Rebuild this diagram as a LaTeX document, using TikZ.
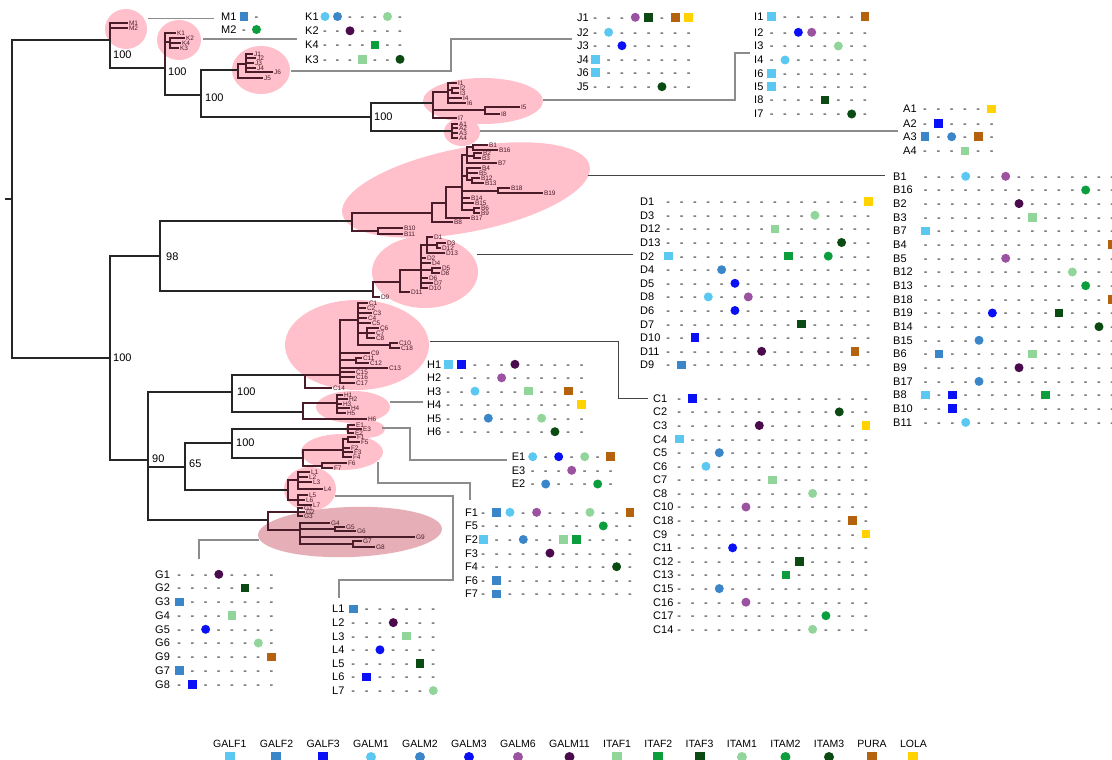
\documentclass[tikz,border=0pt]{standalone}
\usepackage{fontspec}
\setmainfont{Liberation Sans}
\usetikzlibrary{shapes.geometric}
\definecolor{cA}{HTML}{5BC8F2}
\definecolor{cB}{HTML}{3B86C8}
\definecolor{cC}{HTML}{0A10F5}
\definecolor{cG}{HTML}{9B52A0}
\definecolor{cH}{HTML}{4A0B4D}
\definecolor{cI}{HTML}{92D59A}
\definecolor{cJ}{HTML}{0C9E3C}
\definecolor{cK}{HTML}{0B4A12}
\definecolor{cO}{HTML}{B5620E}
\definecolor{cP}{HTML}{FFD200}
\definecolor{pinkc}{HTML}{FFC0CB}
\definecolor{gpink}{HTML}{E6AFB7}
\definecolor{subc}{HTML}{4A1C2A}
\definecolor{connc}{HTML}{8C8C8C}
\definecolor{connd}{HTML}{454545}
\newcommand\tabfont{\fontsize{11}{11}\selectfont}
\newcommand\legfont{\fontsize{10.5}{10.5}\selectfont}
\newcommand\bsfont{\fontsize{11}{11}\selectfont}
\newcommand\lffont{\fontsize{6.5}{6.5}\selectfont}
\tikzset{
 tree/.style={draw=black!85, line width=1.3pt},
 sub/.style={draw=subc, line width=1.1pt},
 conn/.style={draw=connc, line width=1.1pt},
 connk/.style={draw=connd, line width=1pt},
 clade/.style={ellipse, fill=pinkc, inner sep=0pt},
 boot/.style={anchor=west, inner sep=0pt, font=\bsfont},
 leaflbl/.style={anchor=west, inner sep=0.8pt, font=\lffont, text=subc},
 rowlbl/.style={anchor=base west, yshift=-3.9pt, inner sep=0pt, font=\tabfont},
 cellx/.style={anchor=base, yshift=-3.9pt, inner sep=0pt, font=\tabfont},
 sq/.style={rectangle, minimum size=8.5pt, inner sep=0pt, fill=#1},
 ci/.style={circle, minimum size=9pt, inner sep=0pt, fill=#1},
 cella/.style={sq=cA}, cellb/.style={sq=cB}, cellc/.style={sq=cC},
 celld/.style={ci=cA}, celle/.style={ci=cB}, cellf/.style={ci=cC},
 cellg/.style={ci=cG}, cellh/.style={ci=cH},
 celli/.style={sq=cI}, cellj/.style={sq=cJ}, cellk/.style={sq=cK},
 celll/.style={ci=cI}, cellm/.style={ci=cJ}, celln/.style={ci=cK},
 cello/.style={sq=cO}, cellp/.style={sq=cP},
 legt/.style={anchor=base west, inner sep=0pt, font=\legfont},
}
\newcommand\mn[4]{\coordinate (#2) at (#3,#4);\draw[tree] (#1) |- (#2);}
\newcommand\sn[4]{\coordinate (#2) at (#3,#4);\draw[sub] (#1) |- (#2);}
\newcommand\lf[4]{\coordinate (l#2) at (#3,#4);\draw[sub] (#1) |- (l#2);\node[leaflbl] (t#2) at (l#2) {#2};}
\newcommand\trow[6]{\node[rowlbl] (r-#1) at (#2,#3) {#1};%
 \foreach \q [count=\ix from 0] in {#6}{\node[cell\q] (r-#1-\ix) at ({#4+\ix*#5},#3) {\if x\q -\fi};}}
\newcommand\lgi[4]{\node[legt] (#1) at ([xshift=13pt]#2.base east) {#3};\node[#4,minimum size=10pt] (#1s) at (#1.center |- legy) {};}
\begin{document}
\begin{tikzpicture}[x=1pt,y=-1pt]
\useasboundingbox (0,0) rectangle (1112,760);
\clip (0,0) rectangle (1112,760);
\fill[white] (0,0) rectangle (1112,760);
% clade ellipses
\node[clade, minimum width=42pt, minimum height=40pt] (eM) at (126,29) {};
\node[clade, minimum width=44pt, minimum height=40pt] (eK) at (179,40) {};
\node[clade, minimum width=58pt, minimum height=48pt] (eJ) at (261,70) {};
\node[clade, minimum width=120pt, minimum height=46pt] (eI) at (483,101) {};
\node[clade, minimum width=36pt, minimum height=28pt] (eA) at (462,132) {};
\node[clade, minimum width=252pt, minimum height=84pt, rotate=11] (eB) at (466,190) {};
\node[clade, minimum width=106pt, minimum height=72pt] (eD) at (425,272) {};
\node[clade, minimum width=144pt, minimum height=90pt] (eC) at (357,345) {};
\node[clade, minimum width=74pt, minimum height=32pt] (eH) at (353,407) {};
\node[clade, minimum width=40pt, minimum height=18pt] (eE) at (365,429) {};
\node[clade, minimum width=82pt, minimum height=36pt] (eF) at (342,452) {};
\node[clade, minimum width=52pt, minimum height=44pt] (eL) at (310,489) {};
\node[clade, fill=gpink, minimum width=184pt, minimum height=50pt, rotate=2] (eG) at (350,532) {};
% connectors
\coordinate (kM0) at (148,18.5); \coordinate (kM1) at (214,18.5);
\draw[conn] (kM0) -- (kM1);
\coordinate (kK0) at (203,39); \coordinate (kK1) at (297,39);
\draw[conn] (kK0) -- (kK1);
\coordinate (kJ0) at (291,71); \coordinate (kJ1) at (451,71); \coordinate (kJ2) at (572,39);
\draw[conn] (kJ0) -- (kJ1) |- (kJ2);
\coordinate (kI0) at (543,100); \coordinate (kI1) at (735,100); \coordinate (kI2) at (750,53);
\draw[conn] (kI0) -- (kI1) |- (kI2);
\coordinate (kA0) at (480,131); \coordinate (kA1) at (898,131);
\draw[conn] (kA0) -- (kA1);
\coordinate (kB0) at (588,175); \coordinate (kB1) at (885,175);
\draw[connk] (kB0) -- (kB1);
\coordinate (kD0) at (477,254); \coordinate (kD1) at (633,254);
\draw[connk] (kD0) -- (kD1);
\coordinate (kC0) at (430,341); \coordinate (kC1) at (618,341); \coordinate (kC2) at (648,398);
\draw[connk] (kC0) -- (kC1) |- (kC2);
\coordinate (kH0) at (390,402); \coordinate (kH1) at (423,402);
\draw[conn] (kH0) -- (kH1);
\coordinate (kE0) at (382,428); \coordinate (kE1) at (410,428); \coordinate (kE2) at (507,460);
\draw[conn] (kE0) -- (kE1) |- (kE2);
\coordinate (kF0) at (378,462); \coordinate (kF1) at (470,483); \coordinate (kF2) at (470,500);
\draw[conn] (kF0) |- (kF1) -- (kF2);
\coordinate (kL0) at (335,496); \coordinate (kL1) at (453,496); \coordinate (kL2) at (339,580); \coordinate (kL3) at (339,598);
\draw[conn] (kL0) -- (kL1) |- (kL2) -- (kL3);
\coordinate (kG0) at (259,540); \coordinate (kG1) at (199,559);
\draw[conn] (kG0) -| (kG1);
% main tree
\coordinate (rs) at (5,199); \coordinate (root) at (12,199);
\draw[tree] (rs) -- (root);
\mn{root}{nTop}{110}{40}
\mn{nTop}{nK}{165}{68}
\mn{nK}{nJ}{201}{95}
\mn{nJ}{nIA}{371}{117}
\mn{root}{nLow}{110}{358}
\mn{nLow}{n98}{160}{256}
\mn{nLow}{n90}{148}{460}
\mn{n90}{nHC}{232}{392}
\mn{n90}{n65}{185}{467}
\mn{n65}{nEF}{232}{443}
% M
\lf{nTop}{M1}{128}{23}
\lf{nTop}{M2}{128}{28}
% K
\lf{nK}{K1}{176}{33}
\sn{nK}{kk}{170}{42}
\lf{kk}{K2}{185}{38}
\lf{kk}{K4}{181}{43}
\lf{kk}{K3}{179}{48}
% J
\mn{nJ}{jc}{238}{70}
\sn{jc}{jg}{246}{64}
\lf{jg}{J1}{253}{54}
\lf{jg}{J2}{256}{58}
\lf{jg}{J3}{254}{63}
\lf{jg}{J4}{256}{68}
\lf{jg}{J6}{273}{72}
\lf{jc}{J5}{263}{78}
% I and A
\mn{nIA}{ic}{433}{103}
\sn{ic}{ig1}{448}{92}
\lf{ig1}{I1}{457}{83}
\sn{ig1}{ib}{452}{90}
\lf{ib}{I2}{459}{88}
\lf{ib}{I3}{459}{93}
\lf{ig1}{I4}{462}{98}
\lf{ig1}{I6}{466}{103}
\sn{ic}{i58}{485}{110}
\lf{i58}{I5}{520}{107}
\lf{i58}{I8}{500}{114}
\lf{ic}{I7}{457}{118}
\mn{nIA}{ac}{452}{131}
\lf{ac}{A1}{458}{124}
\lf{ac}{A2}{458}{128}
\lf{ac}{A3}{458}{133}
\lf{ac}{A4}{458}{138}
% B
\mn{n98}{b1}{352}{221}
\sn{b1}{b2}{432}{213}
\sn{b1}{b10n}{378}{231}
\lf{b10n}{B10}{403}{228}
\lf{b10n}{B11}{403}{234}
\sn{b2}{b3}{446}{203}
\lf{b2}{B8}{453}{222}
\sn{b3}{b4}{462}{187}
\lf{b3}{B17}{470}{218}
\sn{b4}{bg1}{467}{155}
\sn{b4}{bg2}{467}{176}
\sn{b4}{b1819}{498}{191}
\lf{b4}{B14}{470}{198}
\lf{b4}{B15}{474}{203}
\sn{b4}{b69}{474}{210}
\sn{bg1}{b116}{473}{147}
\sn{bg1}{b23}{474}{156}
\lf{bg1}{B7}{497}{163}
\lf{b116}{B1}{488}{145}
\lf{b116}{B16}{498}{150}
\lf{b23}{B2}{482}{153}
\lf{b23}{B3}{481}{158}
\lf{bg2}{B4}{481}{168}
\lf{bg2}{B5}{478}{173}
\sn{bg2}{b1213}{472}{180}
\lf{b1213}{B12}{480}{178}
\lf{b1213}{B13}{484}{183}
\lf{b1819}{B18}{510}{188}
\lf{b1819}{B19}{543}{193}
\lf{b69}{B6}{480}{208}
\lf{b69}{B9}{480}{213}
% D
\mn{n98}{d1}{373}{291}
\sn{d1}{d2}{400}{282}
\lf{d1}{D9}{380}{297}
\sn{d2}{d3}{421}{270}
\lf{d2}{D11}{410}{292}
\sn{d3}{dg1}{427}{245}
\lf{d3}{D2}{426}{258}
\lf{d3}{D4}{431}{263}
\sn{d3}{d58}{432}{270}
\lf{d3}{D6}{428}{278}
\lf{d3}{D7}{433}{283}
\lf{d3}{D10}{428}{288}
\lf{dg1}{D1}{433}{237}
\sn{dg1}{d312}{437}{245}
\lf{dg1}{D13}{445}{253}
\lf{d312}{D3}{446}{243}
\lf{d312}{D12}{441}{248}
\lf{d58}{D5}{441}{268}
\lf{d58}{D8}{440}{273}
% C
\mn{nHC}{c0}{305}{375}
\sn{c0}{c1}{340}{375}
\lf{c0}{C14}{332}{388}
\sn{c1}{c2}{358}{320}
\lf{c1}{C9}{370}{353}
\sn{c1}{c1112}{356}{360}
\lf{c1}{C13}{388}{368}
\lf{c1}{C15}{355}{372}
\lf{c1}{C16}{355}{377}
\lf{c1}{C17}{355}{383}
\lf{c2}{C1}{368}{303}
\lf{c2}{C2}{366}{308}
\lf{c2}{C3}{372}{313}
\lf{c2}{C4}{367}{318}
\lf{c2}{C5}{371}{323}
\sn{c2}{c678}{367}{333}
\sn{c2}{c1018}{390}{345}
\lf{c678}{C6}{379}{328}
\lf{c678}{C7}{375}{333}
\lf{c678}{C8}{375}{338}
\lf{c1018}{C10}{398}{343}
\lf{c1018}{C18}{400}{348}
\lf{c1112}{C11}{362}{358}
\lf{c1112}{C12}{369}{363}
% H
\mn{nHC}{h0}{303}{412}
\sn{h0}{h1}{337}{403}
\lf{h0}{H6}{367}{419}
\lf{h1}{H1}{343}{395}
\lf{h1}{H2}{348}{399}
\lf{h1}{H3}{342}{404}
\lf{h1}{H4}{350}{408}
\lf{h1}{H5}{346}{413}
% E
\mn{nEF}{e0}{348}{429}
\lf{e0}{E1}{355}{425}
\lf{e0}{E3}{362}{429}
\lf{e0}{E2}{354}{433}
% F
\mn{nEF}{f0}{303}{458}
\sn{f0}{f1}{343}{450}
\sn{f0}{f67}{322}{466}
\sn{f1}{f15}{348}{439}
\lf{f1}{F2}{350}{448}
\lf{f1}{F3}{353}{452}
\lf{f1}{F4}{352}{457}
\lf{f15}{F1}{356}{437}
\lf{f15}{F5}{360}{442}
\lf{f67}{F6}{347}{463}
\lf{f67}{F7}{333}{468}
% L
\mn{n65}{l0}{288}{490}
\sn{l0}{l1}{298}{480}
\sn{l0}{l2}{298}{500}
\lf{l1}{L1}{310}{472}
\lf{l1}{L2}{308}{477}
\lf{l1}{L3}{312}{482}
\lf{l1}{L4}{323}{489}
\lf{l2}{L5}{308}{495}
\lf{l2}{L6}{305}{500}
\lf{l2}{L7}{312}{505}
% G
\mn{n90}{gt0}{268}{520}
\sn{gt0}{gt1}{298}{512}
\sn{gt0}{gt2}{300}{530}
\lf{gt1}{G1}{303}{508}
\lf{gt1}{G2}{305}{512}
\lf{gt1}{G3}{303}{516}
\lf{gt2}{G4}{330}{523}
\sn{gt2}{gt56}{335}{529}
\lf{gt2}{G9}{415}{537}
\sn{gt2}{gt78}{353}{544}
\lf{gt56}{G5}{345}{527}
\lf{gt56}{G6}{356}{531}
\lf{gt78}{G7}{362}{541}
\lf{gt78}{G8}{375}{547}
% bootstrap values
\node[boot] (bs1) at (113,55) {100};
\node[boot] (bs2) at (168,72) {100};
\node[boot] (bs3) at (205,98) {100};
\node[boot] (bs4) at (374,117) {100};
\node[boot] (bs5) at (113,358) {100};
\node[boot] (bs6) at (166,257) {98};
\node[boot] (bs7) at (237,392) {100};
\node[boot] (bs8) at (152,459) {90};
\node[boot] (bs9) at (189,464) {65};
\node[boot] (bs10) at (236,443) {100};
% tables
\trow{M1}{221}{16.5}{244}{12.5}{b,x}
\trow{M2}{221}{29.5}{244}{12.5}{x,m}
\trow{K1}{305}{16.5}{325}{12.5}{d,e,x,x,x,l,x}
\trow{K2}{305}{30.8}{325}{12.5}{x,x,h,x,x,x,x}
\trow{K4}{305}{45}{325}{12.5}{x,x,x,x,j,x,x}
\trow{K3}{305}{59.3}{325}{12.5}{x,x,x,i,x,x,n}
\trow{J1}{577}{17.3}{595.3}{13.33}{x,x,x,g,k,x,o,p}
\trow{J2}{577}{32.3}{595.3}{13.33}{x,d,x,x,x,x,x,x}
\trow{J3}{577}{45.7}{595.3}{13.33}{x,x,f,x,x,x,x,x}
\trow{J4}{577}{59.3}{595.3}{13.33}{a,x,x,x,x,x,x,x}
\trow{J6}{577}{72.7}{595.3}{13.33}{a,x,x,x,x,x,x,x}
\trow{J5}{577}{86.7}{595.3}{13.33}{x,x,x,x,x,n,x,x}
\trow{I1}{754}{16.7}{771.7}{13.33}{a,x,x,x,x,x,x,o}
\trow{I2}{754}{32.3}{771.7}{13.33}{x,x,f,g,x,x,x,x}
\trow{I3}{754}{46}{771.7}{13.33}{x,x,x,x,x,l,x,x}
\trow{I4}{754}{60}{771.7}{13.33}{x,d,x,x,x,x,x,x}
\trow{I6}{754}{73.3}{771.7}{13.33}{a,x,x,x,x,x,x,x}
\trow{I5}{754}{86.7}{771.7}{13.33}{a,x,x,x,x,x,x,x}
\trow{I8}{754}{100}{771.7}{13.33}{x,x,x,x,k,x,x,x}
\trow{I7}{754}{114}{771.7}{13.33}{x,x,x,x,x,x,n,x}
\trow{A1}{903}{109}{925}{13.33}{x,x,x,x,x,p}
\trow{A2}{903}{123.3}{925}{13.33}{x,c,x,x,x,x}
\trow{A3}{903}{136.7}{925}{13.33}{b,x,e,x,o,x}
\trow{A4}{903}{151}{925}{13.33}{x,x,x,i,x,x}
\trow{B1}{893}{176.3}{925.7}{13.33}{x,x,x,d,x,x,g,x,x,x,x,x,x,x,x,x}
\trow{B16}{893}{190.0}{925.7}{13.33}{x,x,x,x,x,x,x,x,x,x,x,x,m,x,x,x}
\trow{B2}{893}{203.6}{925.7}{13.33}{x,x,x,x,x,x,x,h,x,x,x,x,x,x,x,x}
\trow{B3}{893}{217.3}{925.7}{13.33}{x,x,x,x,x,x,x,x,i,x,x,x,x,x,x,x}
\trow{B7}{893}{231.0}{925.7}{13.33}{a,x,x,x,x,x,x,x,x,x,x,x,x,x,x,x}
\trow{B4}{893}{244.7}{925.7}{13.33}{x,x,x,x,x,x,x,x,x,x,x,x,x,x,o,x}
\trow{B5}{893}{258.3}{925.7}{13.33}{x,x,x,x,x,x,g,x,x,x,x,x,x,x,x,x}
\trow{B12}{893}{272.0}{925.7}{13.33}{x,x,x,x,x,x,x,x,x,x,x,l,x,x,x,x}
\trow{B13}{893}{285.7}{925.7}{13.33}{x,x,x,x,x,x,x,x,x,x,x,x,m,x,x,x}
\trow{B18}{893}{299.3}{925.7}{13.33}{x,x,x,x,x,x,x,x,x,x,x,x,x,x,o,x}
\trow{B19}{893}{313.0}{925.7}{13.33}{x,x,x,x,x,f,x,x,x,x,k,x,x,x,x,x}
\trow{B14}{893}{326.7}{925.7}{13.33}{x,x,x,x,x,x,x,x,x,x,x,x,x,n,x,x}
\trow{B15}{893}{340.3}{925.7}{13.33}{x,x,x,x,e,x,x,x,x,x,x,x,x,x,x,x}
\trow{B6}{893}{354.0}{925.7}{13.33}{x,b,x,x,x,x,x,x,i,x,x,x,x,x,x,x}
\trow{B9}{893}{367.7}{925.7}{13.33}{x,x,x,x,x,x,x,h,x,x,x,x,x,x,x,x}
\trow{B17}{893}{381.4}{925.7}{13.33}{x,x,x,x,e,x,x,x,x,x,x,x,x,x,x,x}
\trow{B8}{893}{395.0}{925.7}{13.33}{a,x,c,x,x,x,x,x,x,j,x,x,x,x,x,x}
\trow{B10}{893}{408.7}{925.7}{13.33}{x,x,c,x,x,x,x,x,x,x,x,x,x,x,x,x}
\trow{B11}{893}{422.4}{925.7}{13.33}{x,x,x,d,x,x,x,x,x,x,x,x,x,x,x,x}
\trow{D1}{640}{201.7}{668.3}{13.33}{x,x,x,x,x,x,x,x,x,x,x,x,x,x,x,p}
\trow{D3}{640}{215.3}{668.3}{13.33}{x,x,x,x,x,x,x,x,x,x,x,l,x,x,x,x}
\trow{D12}{640}{228.9}{668.3}{13.33}{x,x,x,x,x,x,x,x,i,x,x,x,x,x,x,x}
\trow{D13}{640}{242.5}{668.3}{13.33}{x,x,x,x,x,x,x,x,x,x,x,x,x,n,x,x}
\trow{D2}{640}{256.1}{668.3}{13.33}{a,x,x,x,x,x,x,x,x,j,x,x,m,x,x,x}
\trow{D4}{640}{269.7}{668.3}{13.33}{x,x,x,x,e,x,x,x,x,x,x,x,x,x,x,x}
\trow{D5}{640}{283.3}{668.3}{13.33}{x,x,x,x,x,f,x,x,x,x,x,x,x,x,x,x}
\trow{D8}{640}{296.9}{668.3}{13.33}{x,x,x,d,x,x,g,x,x,x,x,x,x,x,x,x}
\trow{D6}{640}{310.5}{668.3}{13.33}{x,x,x,x,x,f,x,x,x,x,x,x,x,x,x,x}
\trow{D7}{640}{324.1}{668.3}{13.33}{x,x,x,x,x,x,x,x,x,x,k,x,x,x,x,x}
\trow{D10}{640}{337.7}{668.3}{13.33}{x,x,c,x,x,x,x,x,x,x,x,x,x,x,x,x}
\trow{D11}{640}{351.3}{668.3}{13.33}{x,x,x,x,x,x,x,h,x,x,x,x,x,x,o,x}
\trow{D9}{640}{364.9}{668.3}{13.33}{x,b,x,x,x,x,x,x,x,x,x,x,x,x,x,x}
\trow{C1}{653}{398.3}{679.3}{13.33}{x,c,x,x,x,x,x,x,x,x,x,x,x,x,x}
\trow{C2}{653}{411.9}{679.3}{13.33}{x,x,x,x,x,x,x,x,x,x,x,x,n,x,x}
\trow{C3}{653}{425.5}{679.3}{13.33}{x,x,x,x,x,x,h,x,x,x,x,x,x,x,p}
\trow{C4}{653}{439.1}{679.3}{13.33}{a,x,x,x,x,x,x,x,x,x,x,x,x,x,x}
\trow{C5}{653}{452.7}{679.3}{13.33}{x,x,x,e,x,x,x,x,x,x,x,x,x,x,x}
\trow{C6}{653}{466.3}{679.3}{13.33}{x,x,d,x,x,x,x,x,x,x,x,x,x,x,x}
\trow{C7}{653}{479.8}{679.3}{13.33}{x,x,x,x,x,x,x,i,x,x,x,x,x,x,x}
\trow{C8}{653}{493.4}{679.3}{13.33}{x,x,x,x,x,x,x,x,x,x,l,x,x,x,x}
\trow{C10}{653}{507.0}{679.3}{13.33}{x,x,x,x,x,g,x,x,x,x,x,x,x,x,x}
\trow{C18}{653}{520.6}{679.3}{13.33}{x,x,x,x,x,x,x,x,x,x,x,x,x,o,x}
\trow{C9}{653}{534.2}{679.3}{13.33}{x,x,x,x,x,x,x,x,x,x,x,x,x,x,p}
\trow{C11}{653}{547.8}{679.3}{13.33}{x,x,x,x,f,x,x,x,x,x,x,x,x,x,x}
\trow{C12}{653}{561.4}{679.3}{13.33}{x,x,x,x,x,x,x,x,x,k,x,x,x,x,x}
\trow{C13}{653}{575.0}{679.3}{13.33}{x,x,x,x,x,x,x,x,j,x,x,x,x,x,x}
\trow{C15}{653}{588.6}{679.3}{13.33}{x,x,x,e,x,x,x,x,x,x,x,x,x,x,x}
\trow{C16}{653}{602.2}{679.3}{13.33}{x,x,x,x,x,g,x,x,x,x,x,x,x,x,x}
\trow{C17}{653}{615.7}{679.3}{13.33}{x,x,x,x,x,x,x,x,x,x,x,m,x,x,x}
\trow{C14}{653}{629.3}{679.3}{13.33}{x,x,x,x,x,x,x,x,x,x,l,x,x,x,x}
\trow{H1}{427}{364.3}{448.3}{13.33}{a,c,x,x,x,h,x,x,x,x,x}
\trow{H2}{427}{377.8}{448.3}{13.33}{x,x,x,x,g,x,x,x,x,x,x}
\trow{H3}{427}{391.2}{448.3}{13.33}{x,x,d,x,x,x,i,x,x,o,x}
\trow{H4}{427}{404.7}{448.3}{13.33}{x,x,x,x,x,x,x,x,x,x,p}
\trow{H5}{427}{418.2}{448.3}{13.33}{x,x,x,e,x,x,x,l,x,x,x}
\trow{H6}{427}{431.7}{448.3}{13.33}{x,x,x,x,x,x,x,x,n,x,x}
\trow{E1}{511.7}{456.7}{532.7}{13}{d,x,f,x,l,x,o}
\trow{E3}{511.7}{470.3}{532.7}{13}{x,x,x,g,x,x,x}
\trow{E2}{511.7}{484}{532.7}{13}{x,e,x,x,x,m,x}
\trow{F1}{465}{512.3}{483.3}{13.33}{x,b,d,x,g,x,x,x,l,x,x,o}
\trow{F5}{465}{525.9}{483.3}{13.33}{x,x,x,x,x,x,x,x,x,m,x,x}
\trow{F2}{465}{539.5}{483.3}{13.33}{a,x,x,e,x,x,i,j,x,x,x,x}
\trow{F3}{465}{553.1}{483.3}{13.33}{x,x,x,x,x,h,x,x,x,x,x,x}
\trow{F4}{465}{566.7}{483.3}{13.33}{x,x,x,x,x,x,x,x,x,x,n,x}
\trow{F6}{465}{580.3}{483.3}{13.33}{x,b,x,x,x,x,x,x,x,x,x,x}
\trow{F7}{465}{593.9}{483.3}{13.33}{x,b,x,x,x,x,x,x,x,x,x,x}
\trow{G1}{155}{574.3}{179.3}{13.17}{x,x,x,h,x,x,x,x}
\trow{G2}{155}{588.0}{179.3}{13.17}{x,x,x,x,x,k,x,x}
\trow{G3}{155}{601.8}{179.3}{13.17}{b,x,x,x,x,x,x,x}
\trow{G4}{155}{615.5}{179.3}{13.17}{x,x,x,x,i,x,x,x}
\trow{G5}{155}{629.3}{179.3}{13.17}{x,x,f,x,x,x,x,x}
\trow{G6}{155}{643.0}{179.3}{13.17}{x,x,x,x,x,x,l,x}
\trow{G9}{155}{656.8}{179.3}{13.17}{x,x,x,x,x,x,x,o}
\trow{G7}{155}{670.5}{179.3}{13.17}{b,x,x,x,x,x,x,x}
\trow{G8}{155}{684.3}{179.3}{13.17}{x,c,x,x,x,x,x,x}
\trow{L1}{332}{609.0}{353.3}{13.33}{b,x,x,x,x,x,x}
\trow{L2}{332}{622.6}{353.3}{13.33}{x,x,x,h,x,x,x}
\trow{L3}{332}{636.2}{353.3}{13.33}{x,x,x,x,i,x,x}
\trow{L4}{332}{649.8}{353.3}{13.33}{x,x,f,x,x,x,x}
\trow{L5}{332}{663.4}{353.3}{13.33}{x,x,x,x,x,k,x}
\trow{L6}{332}{677.0}{353.3}{13.33}{x,c,x,x,x,x,x}
\trow{L7}{332}{690.6}{353.3}{13.33}{x,x,x,x,x,x,l}
% legend
\coordinate (legy) at (0,757);
\node[legt] (lg1) at (213,747) {GALF1};
\node[cella,minimum size=10pt] (lg1s) at (lg1.center |- legy) {};
\lgi{lg2}{lg1}{GALF2}{cellb}
\lgi{lg3}{lg2}{GALF3}{cellc}
\lgi{lg4}{lg3}{GALM1}{celld}
\lgi{lg5}{lg4}{GALM2}{celle}
\lgi{lg6}{lg5}{GALM3}{cellf}
\lgi{lg7}{lg6}{GALM6}{cellg}
\lgi{lg8}{lg7}{GALM11}{cellh}
\lgi{lg9}{lg8}{ITAF1}{celli}
\lgi{lg10}{lg9}{ITAF2}{cellj}
\lgi{lg11}{lg10}{ITAF3}{cellk}
\lgi{lg12}{lg11}{ITAM1}{celll}
\lgi{lg13}{lg12}{ITAM2}{cellm}
\lgi{lg14}{lg13}{ITAM3}{celln}
\lgi{lg15}{lg14}{PURA}{cello}
\lgi{lg16}{lg15}{LOLA}{cellp}
\end{tikzpicture}
\end{document}
